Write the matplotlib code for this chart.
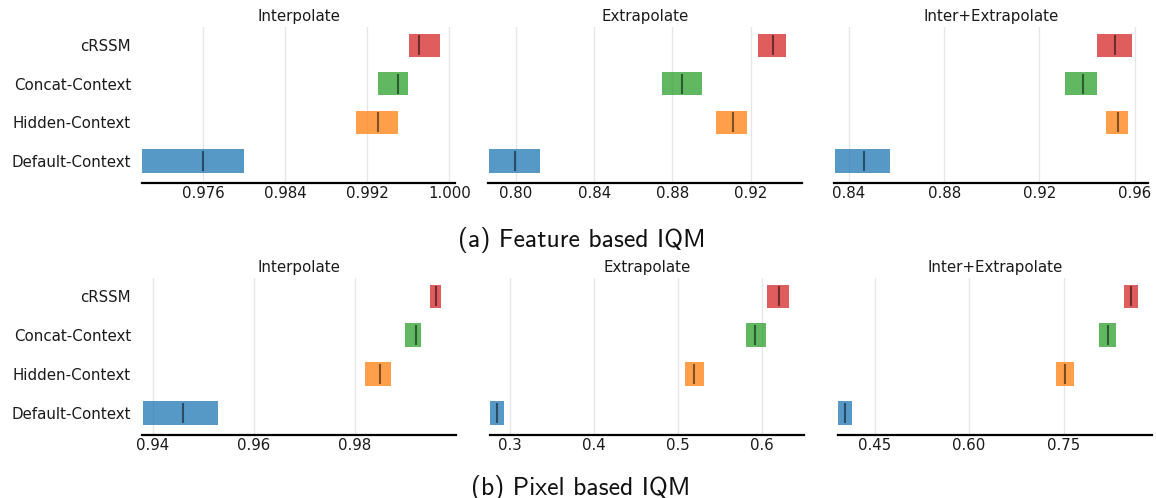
import matplotlib
matplotlib.use("Agg")
import matplotlib.pyplot as plt

algorithms = ["Default-Context", "Hidden-Context", "Concat-Context", "cRSSM"]
colors = ["#1f77b4", "#ff7f0e", "#2ca02c", "#d62728"]
titles = ["Interpolate", "Extrapolate", "Inter+Extrapolate"]

# Feature based IQM: (lower, median, upper) per algorithm
feat_interp_lo = [0.9700, 0.9909, 0.9930, 0.9961]
feat_interp_md = [0.9760, 0.9930, 0.9950, 0.9970]
feat_interp_hi = [0.9800, 0.9950, 0.9960, 0.9991]

feat_extrap_lo = [0.7863, 0.9025, 0.8745, 0.9239]
feat_extrap_md = [0.7993, 0.9110, 0.8849, 0.9313]
feat_extrap_hi = [0.8124, 0.9180, 0.8950, 0.9381]

feat_both_lo = [0.8340, 0.9479, 0.9309, 0.9443]
feat_both_md = [0.8462, 0.9530, 0.9382, 0.9519]
feat_both_hi = [0.8571, 0.9571, 0.9441, 0.9587]

# Pixel based IQM
pix_interp_lo = [0.9380, 0.9820, 0.9899, 0.9949]
pix_interp_md = [0.9461, 0.9850, 0.9920, 0.9961]
pix_interp_hi = [0.9530, 0.9872, 0.9931, 0.9971]

pix_extrap_lo = [0.2762, 0.5080, 0.5806, 0.6064]
pix_extrap_md = [0.2845, 0.5187, 0.5918, 0.6198]
pix_extrap_hi = [0.2929, 0.5306, 0.6044, 0.6317]

pix_both_lo = [0.3920, 0.7378, 0.8059, 0.8458]
pix_both_md = [0.4036, 0.7526, 0.8197, 0.8572]
pix_both_hi = [0.4147, 0.7663, 0.8328, 0.8680]

feat_xlim = [(0.9700, 1.00054), (0.7857, 0.9463), (0.8337, 0.9656)]
feat_ticks = [[0.976, 0.984, 0.992, 1.000], [0.80, 0.84, 0.88, 0.92], [0.84, 0.88, 0.92, 0.96]]
feat_fmt = ["{:.3f}", "{:.2f}", "{:.2f}"]

pix_xlim = [(0.9379, 1.0000), (0.2762, 0.6500), (0.3920, 0.8903)]
pix_ticks = [[0.94, 0.96, 0.98], [0.3, 0.4, 0.5, 0.6], [0.45, 0.60, 0.75]]
pix_fmt = ["{:.2f}", "{:.1f}", "{:.2f}"]

feat_data = [(feat_interp_lo, feat_interp_md, feat_interp_hi),
             (feat_extrap_lo, feat_extrap_md, feat_extrap_hi),
             (feat_both_lo, feat_both_md, feat_both_hi)]
pix_data = [(pix_interp_lo, pix_interp_md, pix_interp_hi),
            (pix_extrap_lo, pix_extrap_md, pix_extrap_hi),
            (pix_both_lo, pix_both_md, pix_both_hi)]

W, H = 1156, 498
fig = plt.figure(figsize=(W / 100, H / 100), dpi=100)

def px_axes(x0, x1, y0, y1):
    return fig.add_axes([x0 / W, 1 - y1 / H, (x1 - x0) / W, (y1 - y0) / H])

top_x = [(142, 455), (488, 802), (834, 1148)]
bot_x = [(142, 456), (490, 804), (838, 1152)]
rows = [
    (feat_data, feat_xlim, feat_ticks, feat_fmt, top_x, (27, 183)),
    (pix_data, pix_xlim, pix_ticks, pix_fmt, bot_x, (278, 435)),
]

FS = 10.8
bar_h = 0.6
for data, xlims, ticks, fmts, xs, (ya, yb) in rows:
    for j in range(3):
        ax = px_axes(xs[j][0], xs[j][1], ya, yb)
        lo, md, hi = data[j]
        for i, alg in enumerate(algorithms):
            ax.barh(i, hi[i] - lo[i], left=lo[i], height=bar_h,
                    color=colors[i], alpha=0.75, zorder=2)
            ax.vlines(md[i], i - bar_h / 2 + 0.04, i + bar_h / 2 - 0.04,
                      color="k", alpha=0.5, linewidth=1.5, zorder=3)
        ax.set_xlim(*xlims[j])
        ax.set_ylim(-0.57, 3.47)
        ax.set_xticks(ticks[j])
        ax.set_xticklabels([fmts[j].format(t) for t in ticks[j]])
        ax.set_yticks(range(len(algorithms)))
        if j == 0:
            ax.set_yticklabels(algorithms)
        else:
            ax.set_yticklabels([])
        ax.tick_params(axis="x", length=0, labelsize=FS, colors="#1a1a1a", pad=2)
        ax.tick_params(axis="y", length=0, labelsize=FS, colors="#1a1a1a", pad=8)
        ax.grid(axis="x", color="#e6e6e6", linewidth=1.0, zorder=0)
        ax.set_axisbelow(True)
        for s in ["left", "right", "top"]:
            ax.spines[s].set_visible(False)
        ax.spines["bottom"].set_linewidth(1.6)
        ax.set_title(titles[j], fontsize=FS, color="#1a1a1a", pad=4)

fig.text(582 / W, 1 - 246.7 / H, "(a) Feature based IQM", ha="center",
         va="baseline", fontsize=18.5, family="cmss10", color="#111111")
fig.text(581 / W, 1 - 494.5 / H, "(b) Pixel based IQM", ha="center",
         va="baseline", fontsize=18.5, family="cmss10", color="#111111")

fig.savefig("out.png", dpi=100)
